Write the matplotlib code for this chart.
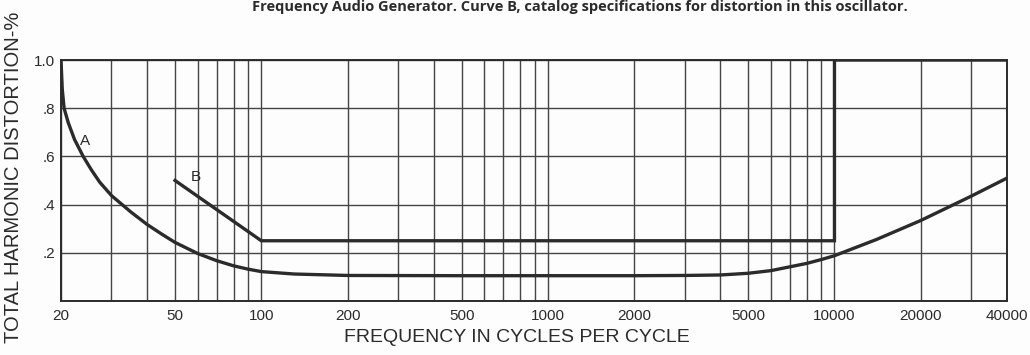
import matplotlib
matplotlib.use("Agg")
import matplotlib.pyplot as plt

# ── data ──────────────────────────────────────────────────────────────────────
freq_a = [20, 20.2, 20.5, 21.2, 22.3, 23.9, 25.5, 27.3, 30, 35, 40, 45, 50, 60,
          70, 80, 90, 100, 130, 200, 500, 1000, 2000, 3000, 4000, 5000, 6000,
          7000, 8000, 9000, 10000, 14000, 20000, 30000, 40000]
thd_a = [1.0, 0.88, 0.8, 0.74, 0.67, 0.6, 0.545, 0.493, 0.4375, 0.37, 0.317,
         0.277, 0.243, 0.197, 0.167, 0.146, 0.132, 0.122, 0.112, 0.106, 0.105,
         0.105, 0.105, 0.106, 0.108, 0.115, 0.126, 0.142, 0.156, 0.172, 0.188,
         0.255, 0.334, 0.435, 0.51]

freq_b = [50, 100, 10000, 10000, 40000]
thd_b = [0.5, 0.25, 0.25, 1.0, 1.0]

x_ticks = [20, 50, 100, 200, 500, 1000, 2000, 5000, 10000, 20000, 40000]
y_ticks = [0.2, 0.4, 0.6, 0.8, 1.0]
y_labels = [".2", ".4", ".6", ".8", "1.0"]

x_grid = ([20, 30, 40, 50, 60, 70, 80, 90, 100]
          + [200, 300, 400, 500, 600, 700, 800, 900, 1000]
          + [2000, 3000, 4000, 5000, 6000, 7000, 8000, 9000, 10000]
          + [20000, 30000, 40000])

INK = "#2b2b2b"
GRID = "#444444"
FONT = ["Liberation Sans", "DejaVu Sans"]

fig = plt.figure(figsize=(10.3, 3.55), dpi=100, facecolor="#fdfdfd")
ax = fig.add_axes([61 / 1030, 1 - 301 / 355, 946 / 1030, 241 / 355])
ax.set_facecolor("#fdfdfd")
ax.set_xscale("log")
ax.set_xlim(20, 40000)
ax.set_ylim(0, 1.0)

# hand-drawn style grid
for xv in x_grid:
    ax.axvline(xv, color=GRID, lw=1.0, zorder=1)
for yv in y_ticks:
    ax.axhline(yv, color=GRID, lw=1.0, zorder=1)

ax.plot(freq_a, thd_a, color=INK, lw=2.4, zorder=3, solid_capstyle="butt")
ax.plot(freq_b, thd_b, color=INK, lw=2.4, zorder=3, solid_joinstyle="miter")

ax.text(24.2, 0.665, "A", fontsize=11, family=FONT, color=INK,
        ha="center", va="center")
ax.text(58.9, 0.515, "B", fontsize=11, family=FONT, color=INK,
        ha="center", va="center")

ax.minorticks_off()
ax.set_xticks(x_ticks)
ax.set_xticklabels([str(v) for v in x_ticks], family=FONT, fontsize=11,
                   color=INK)
ax.set_yticks(y_ticks)
ax.set_yticklabels(y_labels, family=FONT, fontsize=11, color=INK)
ax.tick_params(length=0, pad=4)
ax.tick_params(axis="x", pad=6)
for s in ax.spines.values():
    s.set_color(INK)
    s.set_linewidth(1.4)

fig.text(0.563, 1 - 7 / 355,
         "Frequency Audio Generator. Curve B, catalog specifications for "
         "distortion in this oscillator.",
         ha="center", va="center", fontsize=10.5, weight="bold",
         family=["Open Sans", "DejaVu Sans"], color=INK)
fig.text(14 / 1030, 0.5, "TOTAL HARMONIC DISTORTION-%", rotation=90,
         ha="center", va="center", fontsize=14.5, family=FONT, color=INK)
fig.text(0.502, 1 - 338 / 355, "FREQUENCY IN CYCLES PER CYCLE",
         ha="center", va="center", fontsize=14, family=FONT, color=INK)

fig.savefig("out.png", dpi=100, facecolor=fig.get_facecolor())
